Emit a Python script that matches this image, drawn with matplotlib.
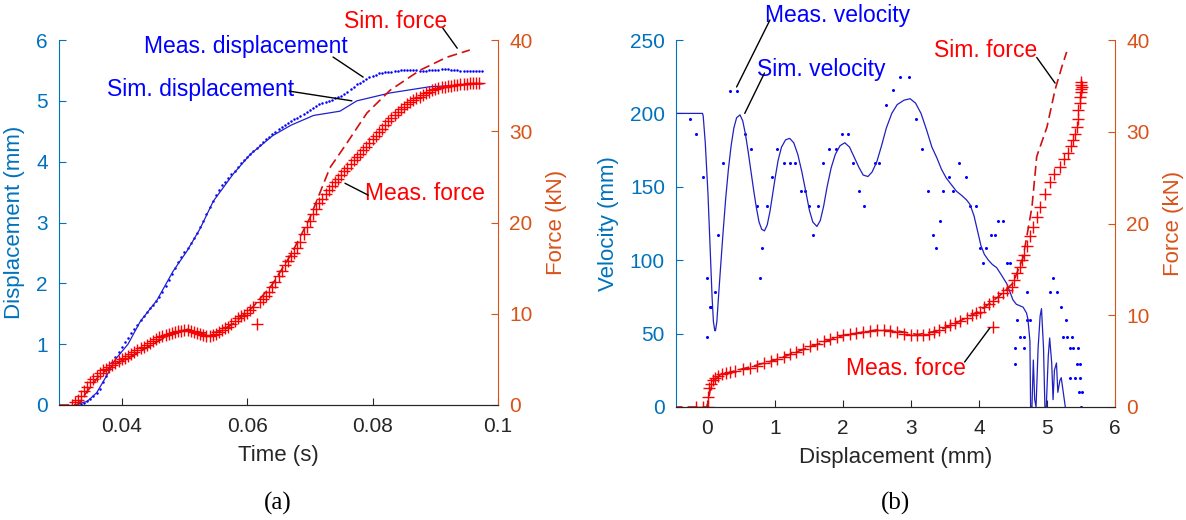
import numpy as np
import matplotlib
matplotlib.use('Agg')
import matplotlib.pyplot as plt

plt.rcParams['font.family'] = ['Liberation Sans', 'DejaVu Sans']

BLUE_AX = '#0072BD'
ORANGE_AX = '#D95319'
DARK = '#262626'

# ---------------- (a) time histories ----------------
# measured samples every 0.5 ms
disp_t0 = 0.0330
force_t0 = 0.0320
t_step = 0.0005

meas_disp = [
    0.00, 0.02, 0.04, 0.07, 0.10, 0.14, 0.19, 0.27, 0.37, 0.48,
    0.60, 0.70, 0.79, 0.87, 0.95, 1.03, 1.10, 1.18, 1.25, 1.32,
    1.39, 1.46, 1.53, 1.59, 1.65, 1.71, 1.78, 1.86, 1.95, 2.05,
    2.15, 2.25, 2.35, 2.43, 2.51, 2.58, 2.66, 2.74, 2.83, 2.93,
    3.03, 3.14, 3.25, 3.35, 3.45, 3.53, 3.61, 3.67, 3.73, 3.79,
    3.85, 3.91, 3.97, 4.03, 4.08, 4.13, 4.18, 4.23, 4.28, 4.33,
    4.37, 4.41, 4.45, 4.49, 4.53, 4.57, 4.61, 4.64, 4.67, 4.70,
    4.72, 4.75, 4.78, 4.81, 4.85, 4.88, 4.91, 4.94, 4.96, 4.98,
    5.00, 5.02, 5.04, 5.06, 5.08, 5.11, 5.15, 5.19, 5.23, 5.27,
    5.30, 5.33, 5.36, 5.39, 5.41, 5.43, 5.45, 5.46, 5.47, 5.48,
    5.48, 5.49, 5.49, 5.50, 5.50, 5.50, 5.50, 5.50, 5.50, 5.49,
    5.49, 5.49, 5.50, 5.50, 5.51, 5.51, 5.52, 5.52, 5.52, 5.51,
    5.50, 5.50, 5.49, 5.49, 5.49, 5.49, 5.49, 5.49, 5.49, 5.49,
]

meas_force = [
    0.0, 0.3, 0.6, 1.0, 1.5, 2.0, 2.5, 2.9, 3.2, 3.5,
    3.8, 4.0, 4.2, 4.4, 4.6, 4.8, 5.0, 5.2, 5.4, 5.6,
    5.8, 6.0, 6.2, 6.4, 6.6, 6.8, 7.0, 7.2, 7.4, 7.6,
    7.7, 7.8, 7.9, 8.0, 8.1, 8.1, 8.2, 8.2, 8.1, 8.0,
    7.9, 7.8, 7.7, 7.6, 7.6, 7.7, 7.8, 8.0, 8.2, 8.4,
    8.6, 8.9, 9.2, 9.5, 9.7, 9.9, 10.1, 10.4, 10.7, 8.9,
    11.3, 11.6, 12.0, 12.4, 12.9, 13.5, 14.1, 14.7, 15.3, 15.8,
    16.3, 16.7, 17.2, 17.9, 18.7, 19.5, 20.2, 20.9, 21.5, 22.1,
    22.6, 23.1, 23.6, 24.0, 24.4, 24.8, 25.2, 25.6, 26.0, 26.4,
    26.8, 27.2, 27.5, 27.9, 28.3, 28.7, 29.1, 29.5, 29.9, 30.3,
    30.7, 31.1, 31.5, 31.8, 32.1, 32.4, 32.7, 33.0, 33.2, 33.4,
    33.6, 33.8, 34.0, 34.2, 34.3, 34.5, 34.6, 34.7, 34.8, 34.9,
    35.0, 35.0, 35.1, 35.1, 35.2, 35.2, 35.2, 35.3, 35.3, 35.3,
    35.3,
]

sim_disp_t = [0.0325, 0.0345, 0.0360, 0.0377, 0.0390, 0.0410, 0.0430, 0.0456,
              0.0482, 0.0504, 0.0525, 0.0546, 0.0578, 0.0605, 0.0641, 0.0670,
              0.0706, 0.0748, 0.0775, 0.0828, 0.0890, 0.0976]
sim_disp = [0.0, 0.06, 0.20, 0.50, 0.75, 1.00, 1.38, 1.72,
            2.20, 2.53, 2.90, 3.35, 3.80, 4.12, 4.43, 4.60,
            4.76, 4.83, 5.00, 5.13, 5.23, 5.28]

sim_force_t = [0.0300, 0.0330, 0.0345, 0.0365, 0.0390, 0.0420, 0.0450, 0.0480,
               0.0505, 0.0530, 0.0555, 0.0580, 0.0610, 0.0640, 0.0670, 0.0700,
               0.0732, 0.0759, 0.0791, 0.0828, 0.0876, 0.0918, 0.0955]
sim_force = [0.0, 0.0, 1.5, 3.3, 4.5, 5.5, 6.7, 7.8,
             8.3, 7.9, 8.0, 9.0, 10.8, 13.2, 16.5, 20.5,
             26.0, 28.7, 32.0, 34.5, 36.7, 38.1, 38.9]

# ---------------- (b) versus displacement ----------------
sim_vel_d = [-0.5, -0.06, -0.05, -0.02, 0.02, 0.05, 0.08, 0.10, 0.12, 0.13,
             0.15, 0.17, 0.20, 0.24, 0.28, 0.32, 0.36, 0.40, 0.44, 0.49,
             0.53, 0.57, 0.61, 0.65, 0.69, 0.73, 0.77, 0.81, 0.85, 0.89,
             0.93, 0.97, 1.01, 1.05, 1.10, 1.16, 1.22, 1.28, 1.34, 1.40,
             1.46, 1.51, 1.56, 1.62, 1.67, 1.72, 1.77, 1.83, 1.89, 1.96,
             2.03, 2.10, 2.17, 2.24, 2.30, 2.37, 2.43, 2.50, 2.57, 2.64,
             2.72, 2.80, 2.90, 2.99, 3.07, 3.15, 3.23, 3.31, 3.38, 3.45,
             3.52, 3.57, 3.62, 3.67, 3.75, 3.82, 3.87, 3.93, 3.98, 4.03,
             4.08, 4.14, 4.20, 4.26, 4.33, 4.41, 4.46, 4.50, 4.55, 4.60,
             4.65, 4.70, 4.72, 4.75, 4.76, 4.78, 4.80, 4.82, 4.84, 4.87,
             4.90, 4.92, 4.95, 4.97, 4.99, 5.02, 5.04, 5.07, 5.09, 5.11,
             5.14, 5.16, 5.19, 5.21, 5.24, 5.27]
sim_vel = [200, 200, 198, 180, 145, 110, 75, 58, 52, 52,
           58, 72, 92, 118, 142, 162, 178, 190, 197, 199,
           195, 186, 174, 161, 148, 136, 126, 121, 120, 124,
           133, 145, 157, 168, 177, 182, 183, 180, 172, 160,
           146, 134, 126, 123, 127, 137, 150, 163, 172, 178,
           180, 177, 170, 163, 158, 157, 160, 167, 178, 190,
           200, 206, 209, 210, 207, 200, 189, 177, 170, 162,
           156, 153, 150, 147, 144, 141, 138, 130, 120, 110,
           104, 100, 97, 95, 90, 84, 78, 73, 70, 69,
           68, 64, 60, 45, 0, 0, 32, 5, 0, 40,
           62, 67, 40, 0, 0, 35, 47, 30, 5, 25,
           30, 10, 18, 20, 10, 0]

meas_vel_d = [-0.25, -0.15, -0.06, 0.00, 0.01, 0.05, 0.07, 0.12, 0.16, 0.24,
              0.34, 0.44, 0.56, 0.65, 0.74, 0.78, 0.81, 0.88, 0.96, 1.04,
              1.14, 1.22, 1.30, 1.38, 1.44, 1.51, 1.57, 1.63, 1.71, 1.80,
              1.90, 1.99, 2.07, 2.15, 2.24, 2.31, 2.47, 2.53, 2.63, 2.74,
              2.84, 2.97, 3.07, 3.16, 3.25, 3.32, 3.37, 3.43, 3.48, 3.56,
              3.62, 3.71, 3.81, 3.87, 3.96, 4.01, 4.06, 4.10, 4.18, 4.24,
              4.28, 4.35, 4.41, 4.46, 4.53, 4.53, 4.56, 4.60, 4.66, 4.66,
              4.70, 4.70, 4.75, 5.04, 5.09, 5.15, 5.20, 5.24, 5.28, 5.29,
              5.34, 5.34, 5.37, 5.38, 5.41, 5.44, 5.46, 5.47, 5.49, 5.49,
              5.51, 5.50]
meas_vel = [196, 186, 157, 88, 48, 68, 68, 78, 117, 166,
            215, 215, 186, 176, 137, 88, 108, 137, 157, 176,
            166, 166, 166, 147, 147, 137, 117, 137, 166, 176,
            176, 186, 186, 166, 147, 137, 166, 166, 206, 216,
            225, 225, 196, 176, 147, 117, 108, 127, 147, 157,
            147, 166, 157, 137, 137, 108, 98, 108, 117, 117,
            127, 127, 98, 98, 40, 29, 59, 48, 48, 40,
            59, 78, 59, 78, 88, 78, 68, 48, 59, 48,
            40, 20, 48, 40, 20, 29, 40, 10, 29, 20,
            10, 0]

meas_force_d = [-0.16, -0.05, 0.02, 0.02, 0.04, 0.07, 0.09, 0.12, 0.16, 0.22,
                0.28, 0.34, 0.42, 0.53, 0.63, 0.74, 0.84, 0.94, 1.03, 1.13,
                1.22, 1.32, 1.42, 1.52, 1.62, 1.72, 1.81, 1.91, 2.01, 2.10,
                2.20, 2.30, 2.40, 2.50, 2.60, 2.70, 2.80, 2.90, 3.00, 3.09,
                3.18, 3.26, 3.34, 3.42, 3.50, 3.57, 3.65, 3.73, 3.82, 3.90,
                3.96, 4.01, 4.08, 4.15, 4.21, 4.21, 4.28, 4.35, 4.42, 4.48,
                4.52, 4.56, 4.60, 4.63, 4.66, 4.70, 4.75, 4.80, 4.85, 4.90,
                4.97, 5.04, 5.11, 5.19, 5.25, 5.31, 5.35, 5.38, 5.41, 5.44,
                5.45, 5.46, 5.48, 5.49, 5.50, 5.50, 5.50, 5.51, 5.50]
meas_force_b = [0.0, 0.0, 0.0, 1.1, 2.1, 2.5, 2.9, 3.2, 3.4, 3.6,
                3.7, 3.8, 3.9, 4.1, 4.3, 4.5, 4.8, 5.0, 5.2, 5.5,
                5.8, 6.0, 6.3, 6.6, 6.9, 7.2, 7.4, 7.6, 7.8, 8.0,
                8.1, 8.2, 8.3, 8.4, 8.4, 8.3, 8.2, 8.0, 7.9, 7.9,
                7.9, 8.0, 8.2, 8.4, 8.7, 8.9, 9.2, 9.4, 9.7, 10.0,
                10.2, 10.4, 10.9, 11.2, 8.7, 11.5, 12.0, 12.4, 12.8, 13.1,
                13.8, 14.6, 15.3, 16.0, 16.6, 17.5, 18.6, 19.6, 20.7, 21.8,
                23.2, 24.5, 25.4, 26.2, 27.0, 27.7, 28.4, 29.1, 29.8, 30.5,
                31.4, 32.4, 33.1, 33.8, 34.3, 34.7, 35.1, 34.9, 35.4]

sim_force_d = [-0.5, 0.0, 0.02, 0.05, 0.10, 0.20, 0.40, 0.70, 1.00, 1.50, 2.00,
               2.50, 2.80, 3.10, 3.40, 3.70, 4.00, 4.30, 4.50, 4.65, 4.78,
               4.85, 5.00, 5.12, 5.22, 5.29]
sim_force_b = [0.0, 0.0, 0.5, 1.8, 2.8, 3.5, 3.9, 4.5, 5.1, 6.5, 7.8,
               8.4, 8.3, 7.9, 8.3, 9.3, 10.4, 12.1, 13.5, 16.3, 21.8,
               27.3, 30.5, 34.6, 37.1, 38.7]

t_disp = disp_t0 + t_step * np.arange(len(meas_disp))
t_force = force_t0 + t_step * np.arange(len(meas_force))

fig = plt.figure(figsize=(11.86, 5.2), dpi=100)


def style_axes(ax_l, ax_r):
    for a in (ax_l, ax_r):
        a.spines['top'].set_visible(False)
        a.spines['bottom'].set_color(DARK)
    ax_l.spines['left'].set_color(BLUE_AX)
    ax_l.spines['right'].set_visible(False)
    ax_r.spines['left'].set_visible(False)
    ax_r.spines['right'].set_color(ORANGE_AX)
    ax_l.tick_params(axis='x', direction='in', length=5, colors=DARK, labelsize=15, pad=9)
    ax_l.tick_params(axis='y', direction='in', length=5, colors=BLUE_AX, labelsize=15, pad=8)
    ax_r.tick_params(axis='y', direction='in', length=5, colors=ORANGE_AX, labelsize=15, pad=8)


def note(ax, text, txy, p0, p1, color):
    ax.text(txy[0], txy[1], text, color=color, fontsize=16.5, ha='center', va='center', clip_on=False)
    ax.annotate('', xy=p1, xytext=p0, annotation_clip=False,
                arrowprops=dict(arrowstyle='-', color='k', lw=1, shrinkA=0, shrinkB=0))


# ---- left panel ----
ax1 = fig.add_axes([59 / 1186, 115 / 520, 439 / 1186, 365 / 520])
ax2 = ax1.twinx()
ax1.plot(t_disp, meas_disp, 'o', color='#0000ff', ms=1.8, mew=0)
ax1.plot(sim_disp_t, sim_disp, '-', color='#2020d0', lw=0.9)
ax2.plot(t_force, meas_force, '+', color='#ff0000', ms=8, mew=1)
ax2.plot(sim_force_t, sim_force, '--', color='#d01010', lw=1.2, dashes=(6, 3))

ax1.set_xlim(0.03, 0.1)
ax1.set_ylim(0, 6)
ax2.set_ylim(0, 40)
ax1.set_xticks([0.04, 0.06, 0.08, 0.1])
ax1.set_xticklabels(['0.04', '0.06', '0.08', '0.1'])
ax1.set_yticks([0, 1, 2, 3, 4, 5, 6])
ax2.set_yticks([0, 10, 20, 30, 40])
style_axes(ax1, ax2)
ax1.set_xlabel('Time (s)', fontsize=16, color=DARK, labelpad=6)
ax1.set_ylabel('Displacement (mm)', fontsize=16, color=BLUE_AX, labelpad=8)
ax2.set_ylabel('Force (kN)', fontsize=16, color=ORANGE_AX, labelpad=10)

note(ax1, 'Meas. displacement', (0.0598, 5.90), (0.0737, 5.72), (0.0785, 5.39), '#0000ff')
note(ax1, 'Sim. displacement', (0.0526, 5.18), (0.0667, 5.16), (0.0767, 5.00), '#0000ff')
note(ax2, 'Sim. force', (0.0836, 42.0), (0.0912, 41.3), (0.0935, 39.1), '#ff0000')
note(ax2, 'Meas. force', (0.0884, 23.2), (0.0793, 23.0), (0.0756, 24.3), '#ff0000')

# ---- right panel ----
ax3 = fig.add_axes([676 / 1186, 113 / 520, 439 / 1186, 367 / 520])
ax4 = ax3.twinx()
ax3.plot(meas_vel_d, meas_vel, 'o', color='#0000ff', ms=2.2, mew=0)
ax3.plot(sim_vel_d, sim_vel, '-', color='#2020c0', lw=0.9)
ax4.plot(meas_force_d, meas_force_b, '+', color='#ff0000', ms=8, mew=1)
ax4.plot(sim_force_d, sim_force_b, '--', color='#d01010', lw=1.2, dashes=(6, 3))

ax3.set_xlim(-0.45, 6)
ax3.set_ylim(0, 250)
ax4.set_ylim(0, 40)
ax3.set_xticks([0, 1, 2, 3, 4, 5, 6])
ax3.set_yticks([0, 50, 100, 150, 200, 250])
ax4.set_yticks([0, 10, 20, 30, 40])
style_axes(ax3, ax4)
ax3.set_xlabel('Displacement (mm)', fontsize=16, color=DARK, labelpad=6)
ax3.set_ylabel('Velocity (mm)', fontsize=16, color=BLUE_AX, labelpad=8)
ax4.set_ylabel('Force (kN)', fontsize=16, color=ORANGE_AX, labelpad=10)

note(ax3, 'Meas. velocity', (1.93, 267), (0.93, 263.6), (0.44, 218), '#0000ff')
note(ax3, 'Sim. velocity', (1.69, 229.6), (0.85, 227.5), (0.56, 200), '#0000ff')
note(ax4, 'Sim. force', (4.10, 38.9), (4.85, 38.1), (5.12, 35.3), '#ff0000')
note(ax4, 'Meas. force', (2.93, 4.25), (3.79, 4.9), (4.16, 8.6), '#ff0000')

fig.text(278 / 1186, 1 - 503 / 520, '(a)', family='Liberation Serif', fontsize=18,
         ha='center', va='center', color='black')
fig.text(895 / 1186, 1 - 503 / 520, '(b)', family='Liberation Serif', fontsize=18,
         ha='center', va='center', color='black')

fig.savefig('out.png', dpi=100)
